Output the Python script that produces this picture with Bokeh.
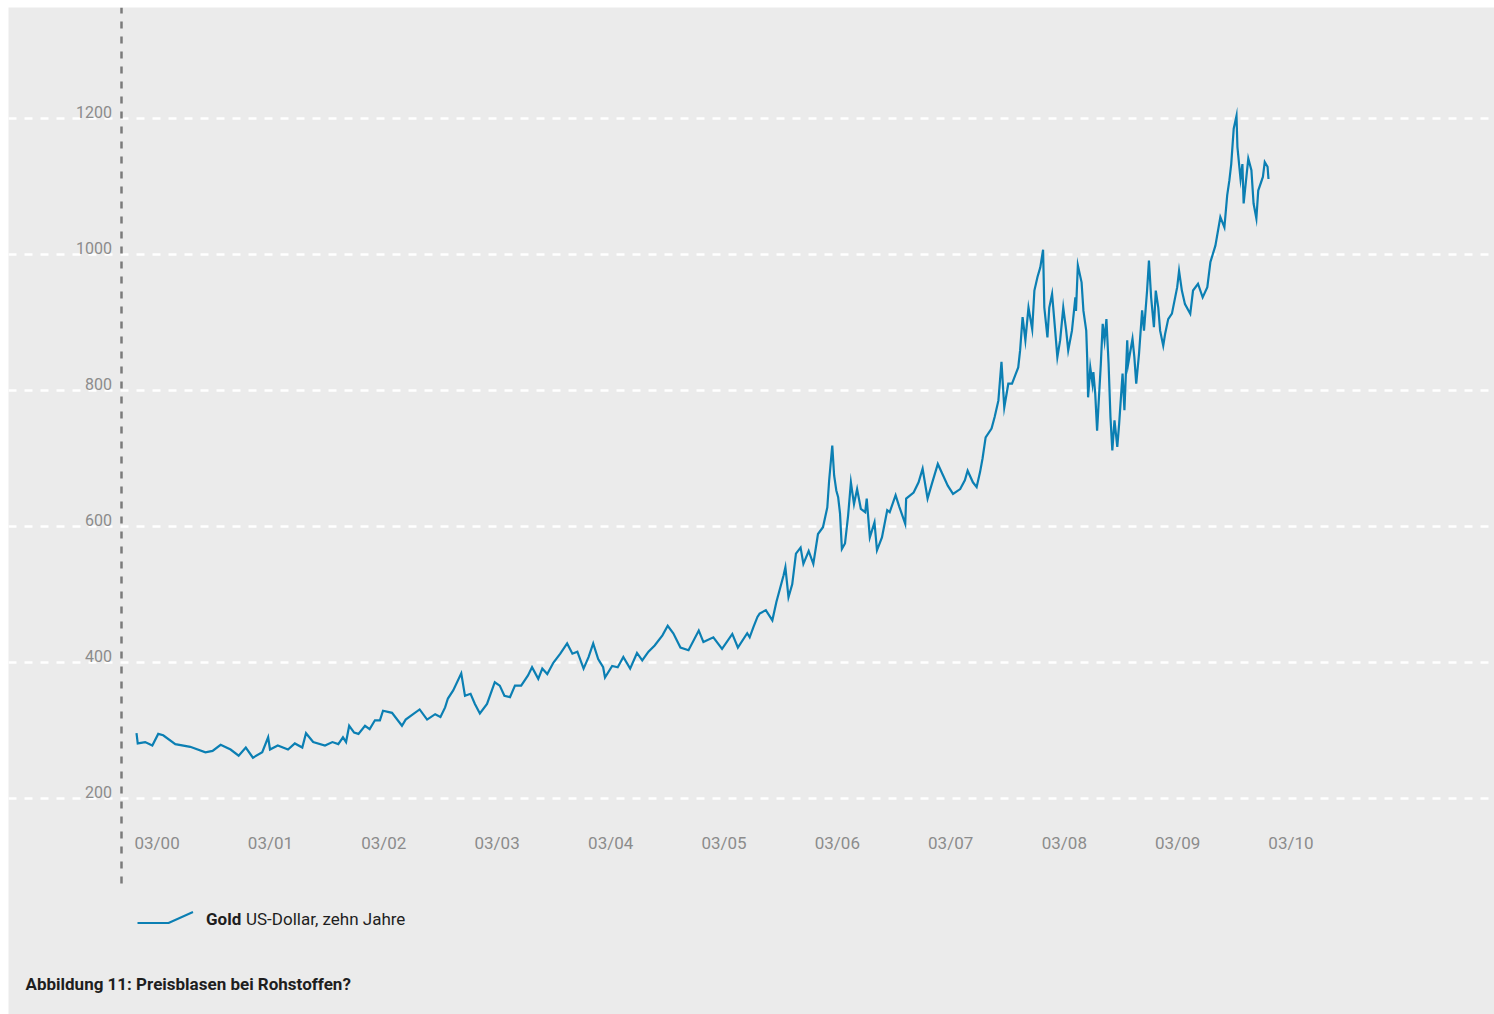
import pandas as pd
from bokeh.plotting import figure
from bokeh.models import Range1d, Grid, FixedTicker, ColumnDataSource
from bokeh.core.properties import value
from bokeh.embed import file_html
from bokeh.resources import INLINE

# ---------------- data ----------------
dates = [
    "2000-03-01", "2000-03-05", "2000-03-29", "2000-04-21", "2000-05-10", "2000-05-26",
    "2000-07-04", "2000-08-21", "2000-10-09", "2000-11-01", "2000-11-27", "2000-12-29",
    "2001-01-24", "2001-02-16", "2001-03-11", "2001-04-10", "2001-04-29", "2001-05-05",
    "2001-05-30", "2001-07-02", "2001-07-24", "2001-08-17", "2001-08-29", "2001-09-21",
    "2001-10-29", "2001-11-22", "2001-12-11", "2001-12-26", "2002-01-05", "2002-01-15",
    "2002-01-31", "2002-02-14", "2002-03-07", "2002-03-22", "2002-04-08", "2002-04-24",
    "2002-05-04", "2002-06-02", "2002-07-04", "2002-07-16", "2002-08-09", "2002-08-30",
    "2002-09-23", "2002-10-19", "2002-11-05", "2002-11-20", "2002-11-29", "2002-12-16",
    "2003-01-11", "2003-01-23", "2003-02-10", "2003-02-24", "2003-03-12", "2003-04-04",
    "2003-04-29", "2003-05-15", "2003-05-30", "2003-06-17", "2003-07-03", "2003-07-23",
    "2003-08-14", "2003-08-27", "2003-09-16", "2003-09-29", "2003-10-15", "2003-11-04",
    "2003-11-26", "2003-12-18", "2004-01-04", "2004-01-20", "2004-02-09", "2004-02-25",
    "2004-03-11", "2004-03-27", "2004-04-12", "2004-04-18", "2004-05-11", "2004-05-29",
    "2004-06-16", "2004-07-08", "2004-07-30", "2004-08-16", "2004-09-05", "2004-09-25",
    "2004-10-20", "2004-11-06", "2004-11-24", "2004-12-17", "2005-01-12", "2005-02-14",
    "2005-03-01", "2005-04-02", "2005-04-30", "2005-06-02", "2005-06-20", "2005-07-20",
    "2005-07-28", "2005-08-09", "2005-08-22", "2005-08-29", "2005-09-18", "2005-10-09",
    "2005-10-22", "2005-11-14", "2005-11-20", "2005-11-30", "2005-12-12", "2005-12-24",
    "2006-01-08", "2006-01-17", "2006-02-03", "2006-02-18", "2006-03-05", "2006-03-21",
    "2006-04-04", "2006-04-10", "2006-04-20", "2006-04-26", "2006-05-03", "2006-05-09",
    "2006-05-15", "2006-05-21", "2006-05-31", "2006-06-10", "2006-06-19", "2006-06-29",
    "2006-07-09", "2006-07-21", "2006-08-04", "2006-08-09", "2006-08-19", "2006-09-03",
    "2006-09-11", "2006-09-27", "2006-10-14", "2006-10-22", "2006-11-10", "2006-11-22",
    "2006-12-11", "2006-12-14", "2007-01-07", "2007-01-23", "2007-02-05", "2007-02-21",
    "2007-03-07", "2007-03-26", "2007-04-12", "2007-04-27", "2007-05-14", "2007-06-06",
    "2007-06-21", "2007-06-30", "2007-07-17", "2007-07-29", "2007-08-09", "2007-08-17",
    "2007-08-27", "2007-09-15", "2007-09-25", "2007-10-07", "2007-10-17", "2007-10-26",
    "2007-11-08", "2007-11-20", "2007-12-10", "2007-12-16", "2007-12-24", "2008-01-02",
    "2008-01-12", "2008-01-24", "2008-01-31", "2008-02-10", "2008-02-19", "2008-02-28",
    "2008-03-03", "2008-03-13", "2008-03-19", "2008-03-28", "2008-04-07", "2008-04-14",
    "2008-04-23", "2008-05-03", "2008-05-12", "2008-05-19", "2008-05-31", "2008-06-11",
    "2008-06-13", "2008-06-19", "2008-07-01", "2008-07-07", "2008-07-16", "2008-07-19",
    "2008-07-22", "2008-07-29", "2008-08-05", "2008-08-08", "2008-08-14", "2008-08-20",
    "2008-09-01", "2008-09-07", "2008-09-13", "2008-09-19", "2008-09-26", "2008-10-02",
    "2008-10-08", "2008-10-15", "2008-10-24", "2008-10-30", "2008-11-10", "2008-11-16",
    "2008-11-25", "2008-11-28", "2008-12-12", "2008-12-18", "2008-12-24", "2009-01-02",
    "2009-01-12", "2009-01-18", "2009-01-28", "2009-02-03", "2009-02-10", "2009-02-19",
    "2009-02-25", "2009-03-05", "2009-03-11", "2009-03-21", "2009-03-27", "2009-04-06",
    "2009-04-18", "2009-05-05", "2009-05-11", "2009-05-20", "2009-05-30", "2009-06-16",
    "2009-06-25", "2009-07-11", "2009-07-26", "2009-08-10", "2009-08-20", "2009-09-05",
    "2009-09-21", "2009-10-04", "2009-10-13", "2009-10-20", "2009-10-26", "2009-11-03",
    "2009-11-12", "2009-11-15", "2009-11-25", "2009-12-01", "2009-12-05", "2009-12-14",
    "2009-12-20", "2009-12-30", "2010-01-06", "2010-01-15", "2010-01-21", "2010-02-05",
    "2010-02-11", "2010-02-20", "2010-02-23",
]
gold = [
    296, 281, 283, 278, 295, 293,
    280, 276, 268, 270, 279, 272,
    263, 275, 260, 268, 290, 272,
    278, 272, 281, 275, 296, 283,
    278, 283, 280, 290, 283, 307,
    297, 295, 307, 302, 315, 315,
    329, 326, 307, 316, 324, 331,
    316, 324, 320, 334, 347, 359,
    384, 351, 354, 339, 325, 339,
    371, 366, 351, 349, 366, 366,
    381, 393, 376, 391, 383, 400,
    413, 428, 413, 416, 391, 408,
    428, 405, 393, 378, 395, 393,
    408, 391, 414, 403, 416, 425,
    440, 454, 443, 422, 418, 447,
    430, 437, 420, 442, 422, 443,
    437, 452, 467, 472, 477, 462,
    489, 528, 540, 496, 515, 560,
    569, 545, 564, 545, 589, 599,
    628, 668, 719, 675, 653, 643,
    619, 567, 575, 616, 665, 633,
    655, 626, 621, 641, 584, 606,
    565, 584, 624, 621, 646, 629,
    604, 641, 650, 665, 685, 641,
    663, 692, 675, 660, 648, 655,
    668, 682, 665, 658, 680, 700,
    731, 744, 761, 785, 842, 775,
    810, 810, 834, 859, 908, 874,
    922, 890, 947, 967, 981, 1007,
    922, 878, 922, 942, 888, 849,
    874, 922, 890, 859, 888, 937,
    917, 984, 959, 917, 888, 849,
    790, 834, 810, 827, 795, 741,
    839, 898, 874, 905, 839, 761,
    712, 756, 717, 751, 825, 771,
    874, 839, 876, 849, 810, 854,
    918, 888, 947, 991, 937, 893,
    947, 922, 888, 866, 883, 905,
    913, 952, 976, 947, 927, 913,
    947, 957, 937, 952, 989, 1013,
    1055, 1040, 1087, 1109, 1133, 1185,
    1204, 1158, 1111, 1133, 1075, 1115,
    1141, 1124, 1075, 1053, 1094, 1114,
    1136, 1129, 1111,
]
y_ticks = [200, 400, 600, 800, 1000, 1200]
y_tick_labels = ["200", "400", "600", "800", "1000", "1200"]
x_tick_dates = ["2000-03-01", "2001-03-01", "2002-03-01", "2003-03-01", "2004-03-01",
                "2005-03-01", "2006-03-01", "2007-03-01", "2008-03-01", "2009-03-01",
                "2010-03-01"]
x_tick_labels = ["03/00", "03/01", "03/02", "03/03", "03/04", "03/05", "03/06",
                 "03/07", "03/08", "03/09", "03/10"]
series_name = "Gold"
series_desc = "US-Dollar, zehn Jahre"
caption = "Abbildung 11: Preisblasen bei Rohstoffen?"

# ---------------- layout helpers (page pixel -> data) ----------------
BG = "#ebebeb"
LINE = "#0b7fb3"
FONT = value("Roboto")
W, H = 1486, 1007
T0 = pd.Timestamp("2000-03-01")
PX_YEAR = 113.4
MS_PX = 365.25 * 86400000 / PX_YEAR


def px_date(px):
    return T0 + pd.Timedelta(milliseconds=(px - 136) * MS_PX)


def py_val(py):
    return 200 + (798 - py) / 0.68


p = figure(width=W, height=H, x_axis_type="datetime",
           x_range=Range1d(px_date(8), px_date(1494)),
           y_range=Range1d(py_val(1014), py_val(7)),
           x_axis_location=None, y_axis_location=None,
           toolbar_location=None, output_backend="svg",
           min_border=0, background_fill_color=BG, border_fill_color=BG,
           outline_line_color=None, margin=(7, 0, 0, 8))
p.xgrid.visible = False
p.ygrid.visible = False

grid = Grid(dimension=1, ticker=FixedTicker(ticks=y_ticks),
            grid_line_color="white", grid_line_width=2.5, grid_line_dash="8 8")
p.add_layout(grid)

# vertical dashed axis line
p.segment(x0=[px_date(121)], x1=[px_date(121)], y0=[py_val(883)], y1=[py_val(7)],
          line_color="#7b7b7b", line_width=2.5, line_dash="7 8")

# y tick labels
p.text(x=[px_date(111.5)] * len(y_ticks), y=y_ticks, text=y_tick_labels,
       text_align="right", text_baseline="middle", y_offset=-7,
       text_font=FONT, text_font_size="16px", text_color="#8c8c8c")

# x tick labels
p.text(x=pd.to_datetime(x_tick_dates), y=[py_val(842.5)] * len(x_tick_labels),
       text=x_tick_labels, text_align="left", text_baseline="middle",
       x_offset=-2, text_font=FONT, text_font_size="17px", text_color="#8c8c8c")

# gold series
src = ColumnDataSource(dict(date=pd.to_datetime(dates), gold=gold))
p.line(x="date", y="gold", source=src, line_color=LINE, line_width=2.2,
       line_join="miter")

# legend
p.line(x=[px_date(137), px_date(168), px_date(192.5)],
       y=[py_val(922.5), py_val(922.5), py_val(911.5)],
       line_color=LINE, line_width=2)
p.text(x=[px_date(205.5)], y=[py_val(918)], text=[series_name],
       text_align="left", text_baseline="middle", text_font=FONT,
       text_font_style="bold", text_font_size="17px", text_color="#1e1e1e")
p.text(x=[px_date(245.5)], y=[py_val(918)], text=[series_desc],
       text_align="left", text_baseline="middle", text_font=FONT,
       text_font_size="17px", text_color="#1e1e1e")

# caption
p.text(x=[px_date(25)], y=[py_val(983.5)], text=[caption],
       text_align="left", text_baseline="middle", text_font=FONT,
       text_font_style="bold", text_font_size="17px", text_color="#1e1e1e")

open("out.html", "w").write(file_html(p, INLINE))
